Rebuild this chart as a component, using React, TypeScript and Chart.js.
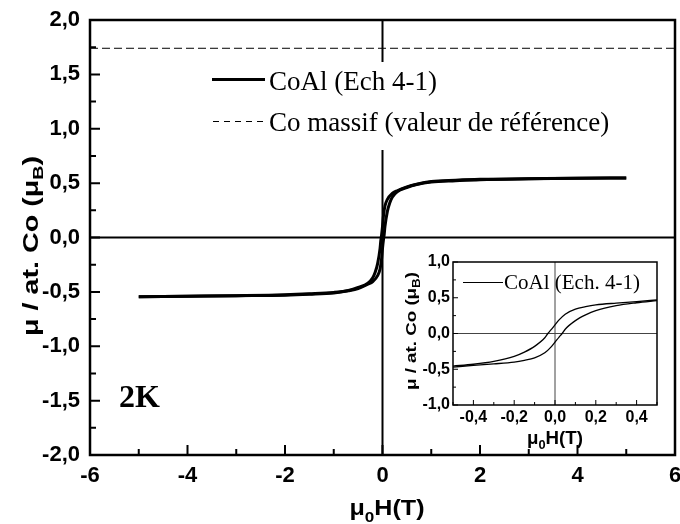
import React, { useEffect, useRef } from "react";
import { Chart, registerables } from "chart.js";

Chart.register(...registerables);

// ---------- data ----------
const mainFieldDown = [5, 4, 3, 2, 1.5, 1, 0.7, 0.5, 0.3, 0.2, 0.1, 0.05, 0.02, 0, -0.02, -0.035, -0.05, -0.1, -0.15, -0.2, -0.3, -0.5, -0.7, -1, -1.5, -2, -3, -4, -5];
const mainMomentDown = [0.548, 0.545, 0.54, 0.535, 0.527, 0.515, 0.49, 0.465, 0.43, 0.405, 0.35, 0.29, 0.2, 0.1, 0.02, -0.03, -0.1, -0.24, -0.32, -0.37, -0.42, -0.46, -0.487, -0.505, -0.518, -0.527, -0.535, -0.54, -0.545];
const mainFieldUp = [-5, -4, -3, -2, -1.5, -1, -0.7, -0.5, -0.3, -0.2, -0.1, -0.05, -0.02, 0, 0.02, 0.035, 0.05, 0.1, 0.15, 0.2, 0.3, 0.5, 0.7, 1, 1.5, 2, 3, 4, 5];
const mainMomentUp = [-0.545, -0.54, -0.535, -0.53, -0.522, -0.51, -0.49, -0.47, -0.43, -0.405, -0.35, -0.29, -0.2, -0.1, -0.02, 0.03, 0.1, 0.24, 0.32, 0.37, 0.42, 0.46, 0.487, 0.51, 0.522, 0.532, 0.54, 0.545, 0.548];
const refField = [-6, 6];
const refMoment = [1.74, 1.74];

const insetFieldDown = [0.5, 0.4, 0.3, 0.2, 0.15, 0.1, 0.05, 0.02, 0, -0.02, -0.035, -0.05, -0.1, -0.15, -0.2, -0.3, -0.4, -0.5];
const insetMomentDown = [0.47, 0.445, 0.425, 0.4, 0.375, 0.34, 0.27, 0.19, 0.12, 0.05, 0.0, -0.06, -0.18, -0.26, -0.32, -0.39, -0.43, -0.455];
const insetFieldUp = [-0.5, -0.4, -0.3, -0.2, -0.15, -0.1, -0.05, -0.02, 0, 0.02, 0.035, 0.05, 0.1, 0.15, 0.2, 0.3, 0.4, 0.5];
const insetMomentUp = [-0.47, -0.445, -0.425, -0.4, -0.375, -0.34, -0.27, -0.19, -0.12, -0.05, 0.0, 0.06, 0.18, 0.26, 0.32, 0.39, 0.43, 0.46];

const mainXTicks = [-6, -4, -2, 0, 2, 4, 6];
const mainXTickLabels = ["-6", "-4", "-2", "0", "2", "4", "6"];
const mainXMinor = [-5, -3, -1, 1, 3, 5];
const mainYTicks = [-2, -1.5, -1, -0.5, 0, 0.5, 1, 1.5, 2];
const mainYTickLabels = ["-2,0", "-1,5", "-1,0", "-0,5", "0,0", "0,5", "1,0", "1,5", "2,0"];
const mainYMinor = [-1.75, -1.25, -0.75, -0.25, 0.25, 0.75, 1.25, 1.75];

const insetXTicks = [-0.4, -0.2, 0, 0.2, 0.4];
const insetXTickLabels = ["-0,4", "-0,2", "0,0", "0,2", "0,4"];
const insetXMinor = [-0.5, -0.3, -0.1, 0.1, 0.3, 0.5];
const insetYTicks = [-1, -0.5, 0, 0.5, 1];
const insetYTickLabels = ["-1,0", "-0,5", "0,0", "0,5", "1,0"];
const insetYMinor = [-0.75, -0.25, 0.25, 0.75];

const legendLabels = ["CoAl (Ech 4-1)", "Co massif (valeur de référence)"];
const insetLegendLabel = "CoAl (Ech. 4-1)";
const tempLabel = "2K";
const yTitleParts = [{ t: "μ / at. Co (μ" }, { t: "B", sub: true }, { t: ")" }];
const xTitleParts = [{ t: "μ" }, { t: "0", sub: true }, { t: "H(T)" }];

// ---------- helpers ----------
const SANS = "'Liberation Sans', Arial, sans-serif";
const SERIF = "'Liberation Serif', 'Times New Roman', serif";

const toPts = (xs: number[], ys: number[]) => xs.map((x, i) => ({ x, y: ys[i] }));

type Part = { t: string; sub?: boolean };

function drawRich(
  ctx: CanvasRenderingContext2D,
  parts: Part[],
  size: number,
  subSize: number,
  subDy: number,
  targetW?: number
) {
  const widths = parts.map((p) => {
    ctx.font = `bold ${p.sub ? subSize : size}px ${SANS}`;
    return ctx.measureText(p.t).width;
  });
  const W = widths.reduce((a, b) => a + b, 0);
  const sx = targetW ? targetW / W : 1;
  ctx.save();
  ctx.scale(sx, 1);
  ctx.textAlign = "left";
  ctx.textBaseline = "alphabetic";
  ctx.fillStyle = "#000";
  let x = -W / 2;
  parts.forEach((p, i) => {
    ctx.font = `bold ${p.sub ? subSize : size}px ${SANS}`;
    ctx.fillText(p.t, x, p.sub ? subDy : 0);
    x += widths[i];
  });
  ctx.restore();
}

function drawAxesFrame(
  ctx: CanvasRenderingContext2D,
  chart: any,
  cfg: {
    frameW: number;
    majorLen: number;
    minorLen: number;
    tickW: number;
    xTicks: number[];
    xLabels: string[];
    xMinor: number[];
    yTicks: number[];
    yLabels: string[];
    yMinor: number[];
    font: string;
    yLabelRight: number;
    xLabelY: number;
  }
) {
  const { left, right, top, bottom } = chart.chartArea;
  const xs = chart.scales.x;
  const ys = chart.scales.y;
  ctx.save();
  ctx.strokeStyle = "#000";
  ctx.lineWidth = cfg.frameW;
  ctx.strokeRect(left, top, right - left, bottom - top);
  ctx.lineWidth = cfg.tickW;
  ctx.beginPath();
  cfg.xTicks.forEach((v) => {
    const px = xs.getPixelForValue(v);
    ctx.moveTo(px, bottom);
    ctx.lineTo(px, bottom - cfg.majorLen);
  });
  cfg.xMinor.forEach((v) => {
    const px = xs.getPixelForValue(v);
    ctx.moveTo(px, bottom);
    ctx.lineTo(px, bottom - cfg.minorLen);
  });
  cfg.yTicks.forEach((v) => {
    const py = ys.getPixelForValue(v);
    ctx.moveTo(left, py);
    ctx.lineTo(left + cfg.majorLen, py);
  });
  cfg.yMinor.forEach((v) => {
    const py = ys.getPixelForValue(v);
    ctx.moveTo(left, py);
    ctx.lineTo(left + cfg.minorLen, py);
  });
  ctx.stroke();

  ctx.fillStyle = "#000";
  ctx.font = cfg.font;
  ctx.textAlign = "right";
  ctx.textBaseline = "middle";
  cfg.yTicks.forEach((v, i) => {
    ctx.fillText(cfg.yLabels[i], cfg.yLabelRight, ys.getPixelForValue(v));
  });
  ctx.textAlign = "center";
  cfg.xTicks.forEach((v, i) => {
    ctx.fillText(cfg.xLabels[i], xs.getPixelForValue(v), cfg.xLabelY);
  });
  ctx.restore();
}

function drawZeroLines(ctx: CanvasRenderingContext2D, chart: any, w: number, color: string) {
  const { left, right, top, bottom } = chart.chartArea;
  const x0 = chart.scales.x.getPixelForValue(0);
  const y0 = chart.scales.y.getPixelForValue(0);
  ctx.save();
  ctx.strokeStyle = color;
  ctx.lineWidth = w;
  ctx.beginPath();
  ctx.moveTo(x0, top);
  ctx.lineTo(x0, bottom);
  ctx.moveTo(left, y0);
  ctx.lineTo(right, y0);
  ctx.stroke();
  ctx.restore();
}

const mainPlugin = {
  id: "mainDecor",
  beforeDatasetsDraw(chart: any) {
    drawZeroLines(chart.ctx, chart, 2, "#000");
  },
  afterDatasetsDraw(chart: any) {
    const ctx: CanvasRenderingContext2D = chart.ctx;
    // legend
    ctx.save();
    ctx.fillStyle = "#fff";
    ctx.fillRect(205, 62, 407, 88);
    ctx.strokeStyle = "#000";
    ctx.lineWidth = 3;
    ctx.beginPath();
    ctx.moveTo(212, 79.5);
    ctx.lineTo(265, 79.5);
    ctx.stroke();
    ctx.lineWidth = 1;
    ctx.setLineDash([6, 5]);
    ctx.beginPath();
    ctx.moveTo(213, 121.5);
    ctx.lineTo(268, 121.5);
    ctx.stroke();
    ctx.setLineDash([]);
    ctx.fillStyle = "#000";
    ctx.font = `27px ${SERIF}`;
    ctx.textAlign = "left";
    ctx.textBaseline = "alphabetic";
    ctx.fillText(legendLabels[0], 269, 90);
    ctx.fillText(legendLabels[1], 269, 131);
    // 2K
    ctx.font = `bold 32px ${SERIF}`;
    ctx.fillText(tempLabel, 119, 407);
    ctx.restore();

    drawAxesFrame(ctx, chart, {
      frameW: 2.5,
      majorLen: 10,
      minorLen: 6,
      tickW: 2,
      xTicks: mainXTicks,
      xLabels: mainXTickLabels,
      xMinor: mainXMinor,
      yTicks: mainYTicks,
      yLabels: mainYTickLabels,
      yMinor: mainYMinor,
      font: `bold 22px ${SANS}`,
      yLabelRight: 80,
      xLabelY: 476,
    });

    // titles
    ctx.save();
    ctx.translate(38, 246);
    ctx.rotate(-Math.PI / 2);
    drawRich(ctx, yTitleParts, 22, 15, 5, 180);
    ctx.restore();
    ctx.save();
    ctx.translate(387, 515);
    drawRich(ctx, xTitleParts, 22, 15, 7, 75);
    ctx.restore();
  },
};

const insetPlugin = {
  id: "insetDecor",
  beforeDatasetsDraw(chart: any) {
    drawZeroLines(chart.ctx, chart, 1, "#444");
  },
  afterDatasetsDraw(chart: any) {
    const ctx: CanvasRenderingContext2D = chart.ctx;
    const ox = 395;
    const oy = 250;
    ctx.save();
    ctx.strokeStyle = "#000";
    ctx.lineWidth = 1;
    ctx.beginPath();
    ctx.moveTo(463 - ox, 282.5 - oy);
    ctx.lineTo(503 - ox, 282.5 - oy);
    ctx.stroke();
    ctx.fillStyle = "#000";
    ctx.font = `21px ${SERIF}`;
    ctx.textAlign = "left";
    ctx.textBaseline = "alphabetic";
    ctx.fillText(insetLegendLabel, 504 - ox, 289 - oy);
    ctx.restore();

    drawAxesFrame(ctx, chart, {
      frameW: 1.5,
      majorLen: 5,
      minorLen: 3,
      tickW: 1,
      xTicks: insetXTicks,
      xLabels: insetXTickLabels,
      xMinor: insetXMinor,
      yTicks: insetYTicks,
      yLabels: insetYTickLabels,
      yMinor: insetYMinor,
      font: `bold 16px ${SANS}`,
      yLabelRight: 450 - ox,
      xLabelY: 418 - oy,
    });

    ctx.save();
    ctx.translate(416 - ox, 331 - oy);
    ctx.rotate(-Math.PI / 2);
    drawRich(ctx, yTitleParts, 14, 10, 4, 118);
    ctx.restore();
    ctx.save();
    ctx.translate(555 - ox, 444 - oy);
    drawRich(ctx, xTitleParts, 19, 13, 5, 56);
    ctx.restore();
  },
};

export default function App() {
  const mainRef = useRef<HTMLCanvasElement>(null);
  const insetRef = useRef<HTMLCanvasElement>(null);

  useEffect(() => {
    const lineDs = (data: any[], width: number, dash: number[] = []) => ({
      data,
      borderColor: "#000",
      borderWidth: width,
      borderDash: dash,
      pointRadius: 0,
      fill: false,
      cubicInterpolationMode: "monotone" as const,
    });

    const main = new Chart(mainRef.current!, {
      type: "line",
      data: {
        datasets: [
          { ...lineDs(toPts(refField, refMoment), 1, [8, 4]), label: legendLabels[1] },
          { ...lineDs(toPts(mainFieldDown, mainMomentDown), 3), label: legendLabels[0] },
          { ...lineDs(toPts(mainFieldUp, mainMomentUp), 3), label: legendLabels[0] },
        ],
      },
      options: {
        responsive: false,
        animation: false,
        devicePixelRatio: 1,
        parsing: true,
        layout: { padding: { left: 90, top: 20, right: 5, bottom: 69 } },
        plugins: { legend: { display: false }, tooltip: { enabled: false } },
        scales: {
          x: { type: "linear", min: -6, max: 6, display: false },
          y: { type: "linear", min: -2, max: 2, display: false },
        },
      },
      plugins: [mainPlugin],
    });

    const inset = new Chart(insetRef.current!, {
      type: "line",
      data: {
        datasets: [
          { ...lineDs(toPts(insetFieldDown, insetMomentDown), 1.3), label: insetLegendLabel },
          { ...lineDs(toPts(insetFieldUp, insetMomentUp), 1.3), label: insetLegendLabel },
        ],
      },
      options: {
        responsive: false,
        animation: false,
        devicePixelRatio: 1,
        layout: { padding: { left: 58, top: 12, right: 13, bottom: 55 } },
        plugins: { legend: { display: false }, tooltip: { enabled: false } },
        scales: {
          x: { type: "linear", min: -0.5, max: 0.5, display: false },
          y: { type: "linear", min: -1, max: 1, display: false },
        },
      },
      plugins: [insetPlugin],
    });

    return () => {
      main.destroy();
      inset.destroy();
    };
  }, []);

  return (
    <div style={{ position: "absolute", left: 0, top: 0, width: 680, height: 524, background: "#fff" }}>
      <canvas ref={mainRef} width={680} height={524} style={{ position: "absolute", left: 0, top: 0 }} />
      <canvas ref={insetRef} width={275} height={210} style={{ position: "absolute", left: 395, top: 250 }} />
    </div>
  );
}
